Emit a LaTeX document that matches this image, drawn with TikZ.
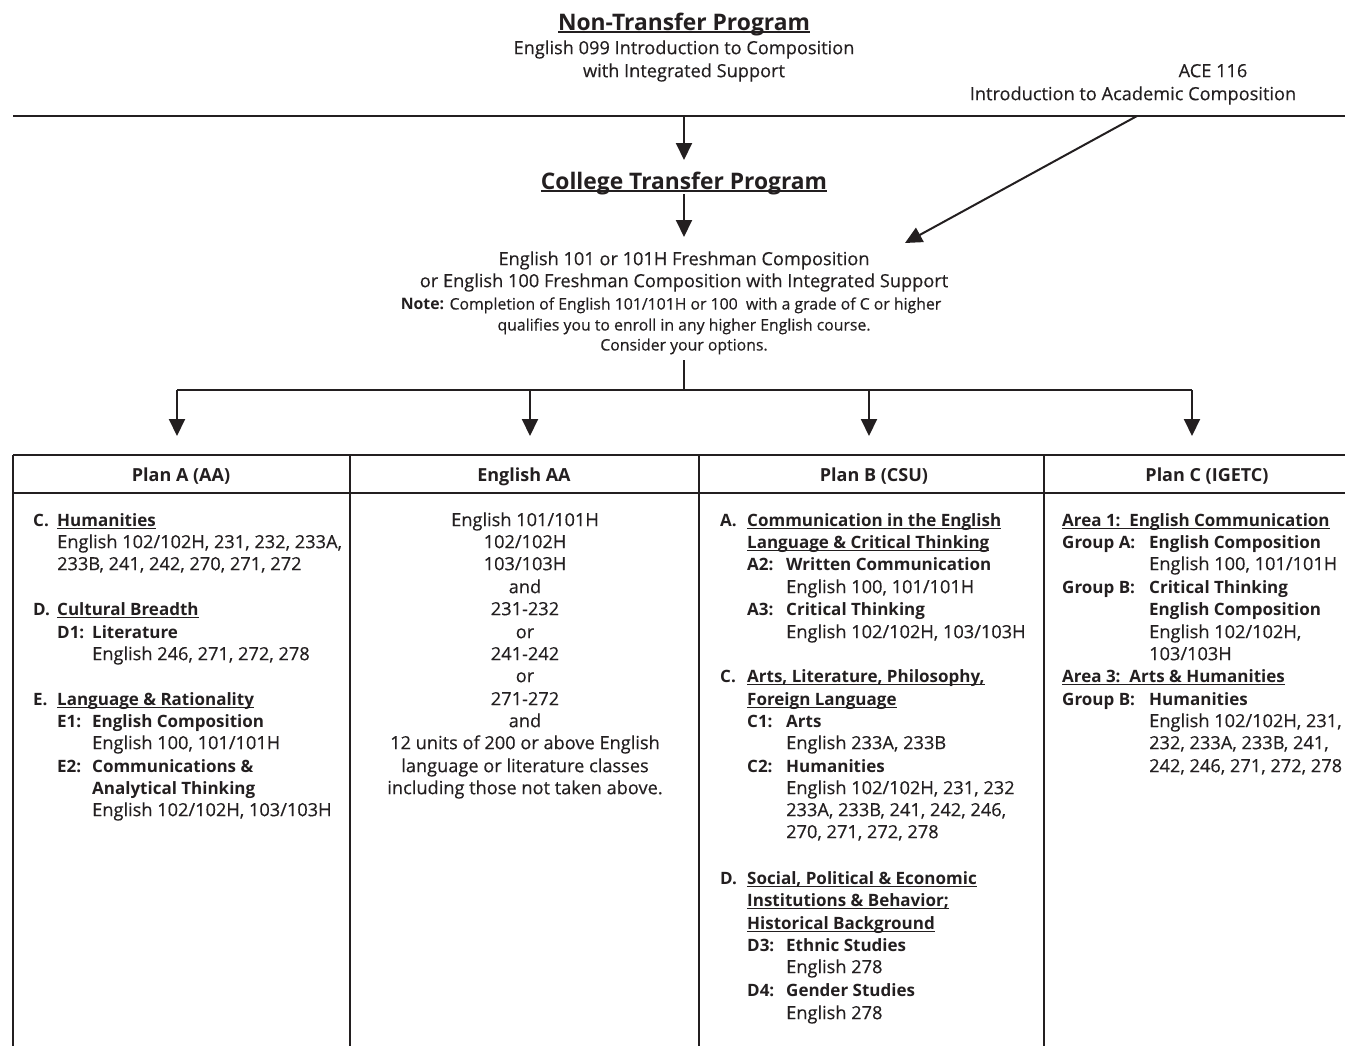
\documentclass[tikz,border=0pt]{standalone}
\usepackage{fontspec}
\setmainfont{Open Sans}[UprightFeatures={FakeBold=0.35}]
\usetikzlibrary{arrows.meta}
\definecolor{ink}{HTML}{231F20}
\newcommand\myul[1]{\setbox0\hbox{#1}\rlap{\rule[-2.8pt]{\wd0}{1.4pt}}\box0}
\newcommand\fsn{\fontsize{18.2}{21}\selectfont}
\newcommand\fss{\fontsize{15.8}{18}\selectfont}
\newcommand\fsh{\fontsize{22.8}{26}\selectfont\bfseries}
\newcommand\fshd{\fontsize{18}{21}\selectfont\bfseries}
\newcommand\B[1]{{\fontsize{17}{20}\selectfont\bfseries #1}}
\newcommand\Lw[4]{\node[tl] (#1) at (#2,{#3+6.2}) {#4};}
\newcommand\Lc[4]{\node[tc] (#1) at (#2,{#3+6.2}) {#4};}
\tikzset{
  tl/.style={anchor=base west, inner sep=0pt, font=\fsn, text=ink},
  tc/.style={anchor=base, inner sep=0pt, font=\fsn, text=ink},
  tipd/.style={-{Triangle[width=16pt,length=17pt]}},
  conn/.style={draw=ink, line width=2pt},
  rule/.style={draw=ink, line width=2.4pt},
}
\begin{document}
\begin{tikzpicture}[x=1pt,y=-1pt]
\useasboundingbox (0,0) rectangle (1345,1045);
% top
\node[tc, font=\fsh] (nt) at (684,30) {\myul{Non-Transfer Program}};
\Lc{e1}{684}{48}{English 099 Introduction to Composition}
\Lc{e2}{684}{71}{with Integrated Support}
\Lc{a1}{1213}{71}{ACE 116}
\Lc{a2}{1133}{94}{Introduction to Academic Composition}
\coordinate (tl0) at (13,116);
\coordinate (tl1) at (1345,116);
\draw[rule, line width=2.8pt] (tl0) -- (tl1);
\coordinate (s1) at (684,116);
\coordinate (s2) at (1137,116);
\node[tc, font=\fsh] (ct) at (684,189) {\myul{College Transfer Program}};
\coordinate (ctt) at (684,160);
\coordinate (ctb) at (684,194);
\coordinate (mt) at (684,237);
\coordinate (dg) at (905,243);
\draw[conn, tipd, fill=ink] (s1) -- (ctt);
\draw[conn, tipd, fill=ink] (ctb) -- (mt);
\draw[conn, tipd, fill=ink] (s2) -- (dg);
\Lc{m1}{684}{259}{English 101 or 101H Freshman Composition}
\Lc{m2}{684}{281}{or English 100 Freshman Composition with Integrated Support}
\node[tc, font=\fss] (n1) at (671,{304+5.5}) {\textbf{Note:} Completion of English 101/101H or 100\ \ with a grade of C or higher};
\node[tc, font=\fss] (n2) at (684,{325+5.5}) {qualifies you to enroll in any higher English course.};
\node[tc, font=\fss] (n3) at (684,{345+5.5}) {Consider your options.};
\coordinate (b0) at (684,360);
\coordinate (b1) at (684,390);
\coordinate (bA) at (177,390);
\coordinate (bD) at (1192,390);
\coordinate (bB) at (530,390);
\coordinate (bC) at (869,390);
\coordinate (tA) at (177,436);
\coordinate (tB) at (530,436);
\coordinate (tC) at (869,436);
\coordinate (tD) at (1192,436);
\draw[conn] (b0) -- (b1);
\draw[conn] (bA) -- (bD);
\foreach \p in {A,B,C,D} \draw[conn, tipd, fill=ink] (b\p) -- (t\p);
% table
\draw[rule] (13,455) -- (1345,455);
\draw[rule] (13,493) -- (1345,493);
\foreach \x in {13,350,699,1044} \draw[rule] (\x,455) -- (\x,1046);
\node[tc, font=\fshd] (hA) at (181,{475+6}) {Plan A (AA)};
\node[tc, font=\fshd] (hB) at (524,{475+6}) {English AA};
\node[tc, font=\fshd] (hC) at (874,{475+6}) {Plan B (CSU)};
\node[tc, font=\fshd] (hD) at (1207,{475+6}) {Plan C (IGETC)};
% Plan A
\Lw{pa1}{33}{520}{\B{C.}}
\Lw{pa2}{57}{520}{\B{\myul{Humanities}}}
\Lw{pa3}{57}{542}{English 102/102H, 231, 232, 233A,}
\Lw{pa4}{57}{564}{233B, 241, 242, 270, 271, 272}
\Lw{pa5}{33}{609}{\B{D.}}
\Lw{pa6}{57}{609}{\B{\myul{Cultural Breadth}}}
\Lw{pa7}{57}{632}{\B{D1:}}
\Lw{pa8}{92}{632}{\B{Literature}}
\Lw{pa9}{92}{654}{English 246, 271, 272, 278}
\Lw{pa10}{33}{699}{\B{E.}}
\Lw{pa11}{57}{699}{\B{\myul{Language \& Rationality}}}
\Lw{pa12}{57}{721}{\B{E1:}}
\Lw{pa13}{92}{721}{\B{English Composition}}
\Lw{pa14}{92}{743}{English 100, 101/101H}
\Lw{pa15}{57}{766}{\B{E2:}}
\Lw{pa16}{92}{766}{\B{Communications \&}}
\Lw{pa17}{92}{788}{\B{Analytical Thinking}}
\Lw{pa18}{92}{810}{English 102/102H, 103/103H}
% English AA
\Lc{ea1}{525}{520}{English 101/101H}
\Lc{ea2}{525}{542}{102/102H}
\Lc{ea3}{525}{564}{103/103H}
\Lc{ea4}{525}{587}{and}
\Lc{ea5}{525}{609}{231-232}
\Lc{ea6}{525}{632}{or}
\Lc{ea7}{525}{654}{241-242}
\Lc{ea8}{525}{676}{or}
\Lc{ea9}{525}{699}{271-272}
\Lc{ea10}{525}{721}{and}
\Lc{ea11}{525}{743}{12 units of 200 or above English}
\Lc{ea12}{525}{766}{language or literature classes}
\Lc{ea13}{525}{788}{including those not taken above.}
% Plan B
\Lw{pb1}{720}{520}{\B{A.}}
\Lw{pb2}{747}{520}{\B{\myul{Communication in the English}}}
\Lw{pb3}{747}{542}{\B{\myul{Language \& Critical Thinking}}}
\Lw{pb4}{747}{564}{\B{A2:}}
\Lw{pb5}{786}{564}{\B{Written Communication}}
\Lw{pb6}{786}{587}{English 100, 101/101H}
\Lw{pb7}{747}{609}{\B{A3:}}
\Lw{pb8}{786}{609}{\B{Critical Thinking}}
\Lw{pb9}{786}{632}{English 102/102H, 103/103H}
\Lw{pb10}{720}{676}{\B{C.}}
\Lw{pb11}{747}{676}{\B{\myul{Arts, Literature, Philosophy,}}}
\Lw{pb12}{747}{699}{\B{\myul{Foreign Language}}}
\Lw{pb13}{747}{721}{\B{C1:}}
\Lw{pb14}{786}{721}{\B{Arts}}
\Lw{pb15}{786}{743}{English 233A, 233B}
\Lw{pb16}{747}{766}{\B{C2:}}
\Lw{pb17}{786}{766}{\B{Humanities}}
\Lw{pb18}{786}{788}{English 102/102H, 231, 232}
\Lw{pb19}{786}{810}{233A, 233B, 241, 242, 246,}
\Lw{pb20}{786}{832}{270, 271, 272, 278}
\Lw{pb21}{720}{878}{\B{D.}}
\Lw{pb22}{747}{878}{\B{\myul{Social, Political \& Economic}}}
\Lw{pb23}{747}{900}{\B{\myul{Institutions \& Behavior;}}}
\Lw{pb24}{747}{923}{\B{\myul{Historical Background}}}
\Lw{pb25}{747}{945}{\B{D3:}}
\Lw{pb26}{786}{945}{\B{Ethnic Studies}}
\Lw{pb27}{786}{967}{English 278}
\Lw{pb28}{747}{990}{\B{D4:}}
\Lw{pb29}{786}{990}{\B{Gender Studies}}
\Lw{pb30}{786}{1013}{English 278}
% Plan C
\Lw{pc1}{1062}{520}{\B{\myul{Area 1:\ \ English Communication}}}
\Lw{pc2}{1062}{542}{\B{Group A:}}
\Lw{pc3}{1149}{542}{\B{English Composition}}
\Lw{pc4}{1149}{564}{English 100, 101/101H}
\Lw{pc5}{1062}{587}{\B{Group B:}}
\Lw{pc6}{1149}{587}{\B{Critical Thinking}}
\Lw{pc7}{1149}{609}{\B{English Composition}}
\Lw{pc8}{1149}{632}{English 102/102H,}
\Lw{pc9}{1149}{654}{103/103H}
\Lw{pc10}{1062}{676}{\B{\myul{Area 3:\ \ Arts \& Humanities}}}
\Lw{pc11}{1062}{699}{\B{Group B:}}
\Lw{pc12}{1149}{699}{\B{Humanities}}
\Lw{pc13}{1149}{721}{English 102/102H, 231,}
\Lw{pc14}{1149}{743}{232, 233A, 233B, 241,}
\Lw{pc15}{1149}{766}{242, 246, 271, 272, 278}
\end{tikzpicture}
\end{document}
